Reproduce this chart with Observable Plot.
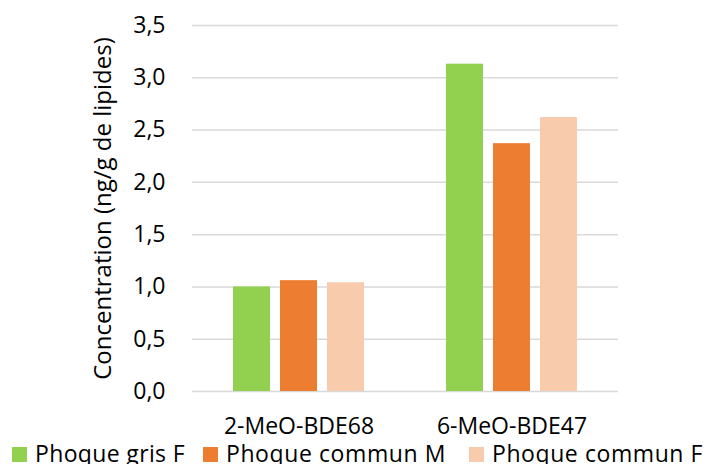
<!DOCTYPE html>
<html>
<head>
<meta charset="utf-8">
<script src="https://cdn.jsdelivr.net/npm/d3@7"></script>
<script src="https://cdn.jsdelivr.net/npm/@observablehq/plot@0.6"></script>
<style>
  body { margin: 0; background: #fff; font-family: "Open Sans", sans-serif; color: #000; overflow: hidden; }
  #chart svg { display: block; }
  #legend { position: relative; height: 24px; font-size: 23px; line-height: 24px; white-space: nowrap; }
  #legend .item { position: absolute; top: 0; display: inline-flex; align-items: baseline; }
  #legend .sw { display: inline-block; width: 15px; height: 15px; margin-right: 8px; }
</style>
</head>
<body>
<div id="chart"></div>
<div id="legend"></div>
<script>
// Compounds measured (x categories)
const compounds = ["2-MeO-BDE68", "6-MeO-BDE47"];
// Seal groups (series)
const groups = ["Phoque gris F", "Phoque commun M", "Phoque commun F"];
const colors = ["#92D050", "#ED7D31", "#F8CBAD"];
// Concentrations, ng/g lipids, one value per compound
const phoqueGrisF = [1.00, 3.13];
const phoqueCommunM = [1.06, 2.37];
const phoqueCommunF = [1.04, 2.62];
// Y axis ticks
const yTicks = [0, 0.5, 1, 1.5, 2, 2.5, 3, 3.5];

const series = [phoqueGrisF, phoqueCommunM, phoqueCommunF];
const data = compounds.flatMap((c, i) =>
  groups.map((g, j) => ({compound: c, group: g, value: series[j][i]}))
);

const fr = d3.formatLocale({decimal: ",", thousands: "\u00a0", grouping: [3], currency: ["", " €"]});
const fmt = fr.format(".1f");

const chart = Plot.plot({
  width: 706,
  height: 441,
  marginLeft: 192,
  marginRight: 88,
  marginTop: 25,
  marginBottom: 50,
  style: {fontFamily: '"Open Sans", sans-serif', fontSize: "23px", color: "#000", background: "#fff"},
  fx: {domain: compounds, padding: 0, label: null},
  x: {domain: groups, paddingInner: 10 / 47, paddingOuter: 0.872, axis: null},
  y: {domain: [0, 3.5]},
  color: {domain: groups, range: colors},
  marks: [
    Plot.gridY(yTicks, {stroke: "#d9d9d9", strokeOpacity: 1, strokeWidth: 1.5}),
    Plot.barY(data, {fx: "compound", x: "group", y: "value", fill: "group"}),
    Plot.axisY(yTicks, {
      tickSize: 0, tickPadding: 27, tickFormat: fmt,
      label: "Concentration (ng/g de lipides)", labelAnchor: "center", labelArrow: "none", labelOffset: 99,
      fontSize: 23
    }),
    Plot.axisFx({anchor: "bottom", tickSize: 0, tickPadding: 26, label: null})
  ]
});
document.getElementById("chart").append(chart);
// Slightly larger axis title
d3.select(chart).selectAll("[aria-label='y-axis label'] text").style("font-size", "24px");

// Legend row below the plot: item left edges and text widths in px
const legendLeft = [12, 203, 469];
const legendTextWidth = [150, 220, 211];
const legend = d3.select("#legend");
groups.forEach((g, i) => {
  const item = legend.append("span").attr("class", "item").style("left", legendLeft[i] + "px");
  item.append("span").attr("class", "sw").style("background", colors[i]);
  const label = item.append("span").text(g);
  const w = label.node().getBoundingClientRect().width;
  label.style("letter-spacing", ((legendTextWidth[i] - w) / g.length) + "px");
});
</script>
</body>
</html>
